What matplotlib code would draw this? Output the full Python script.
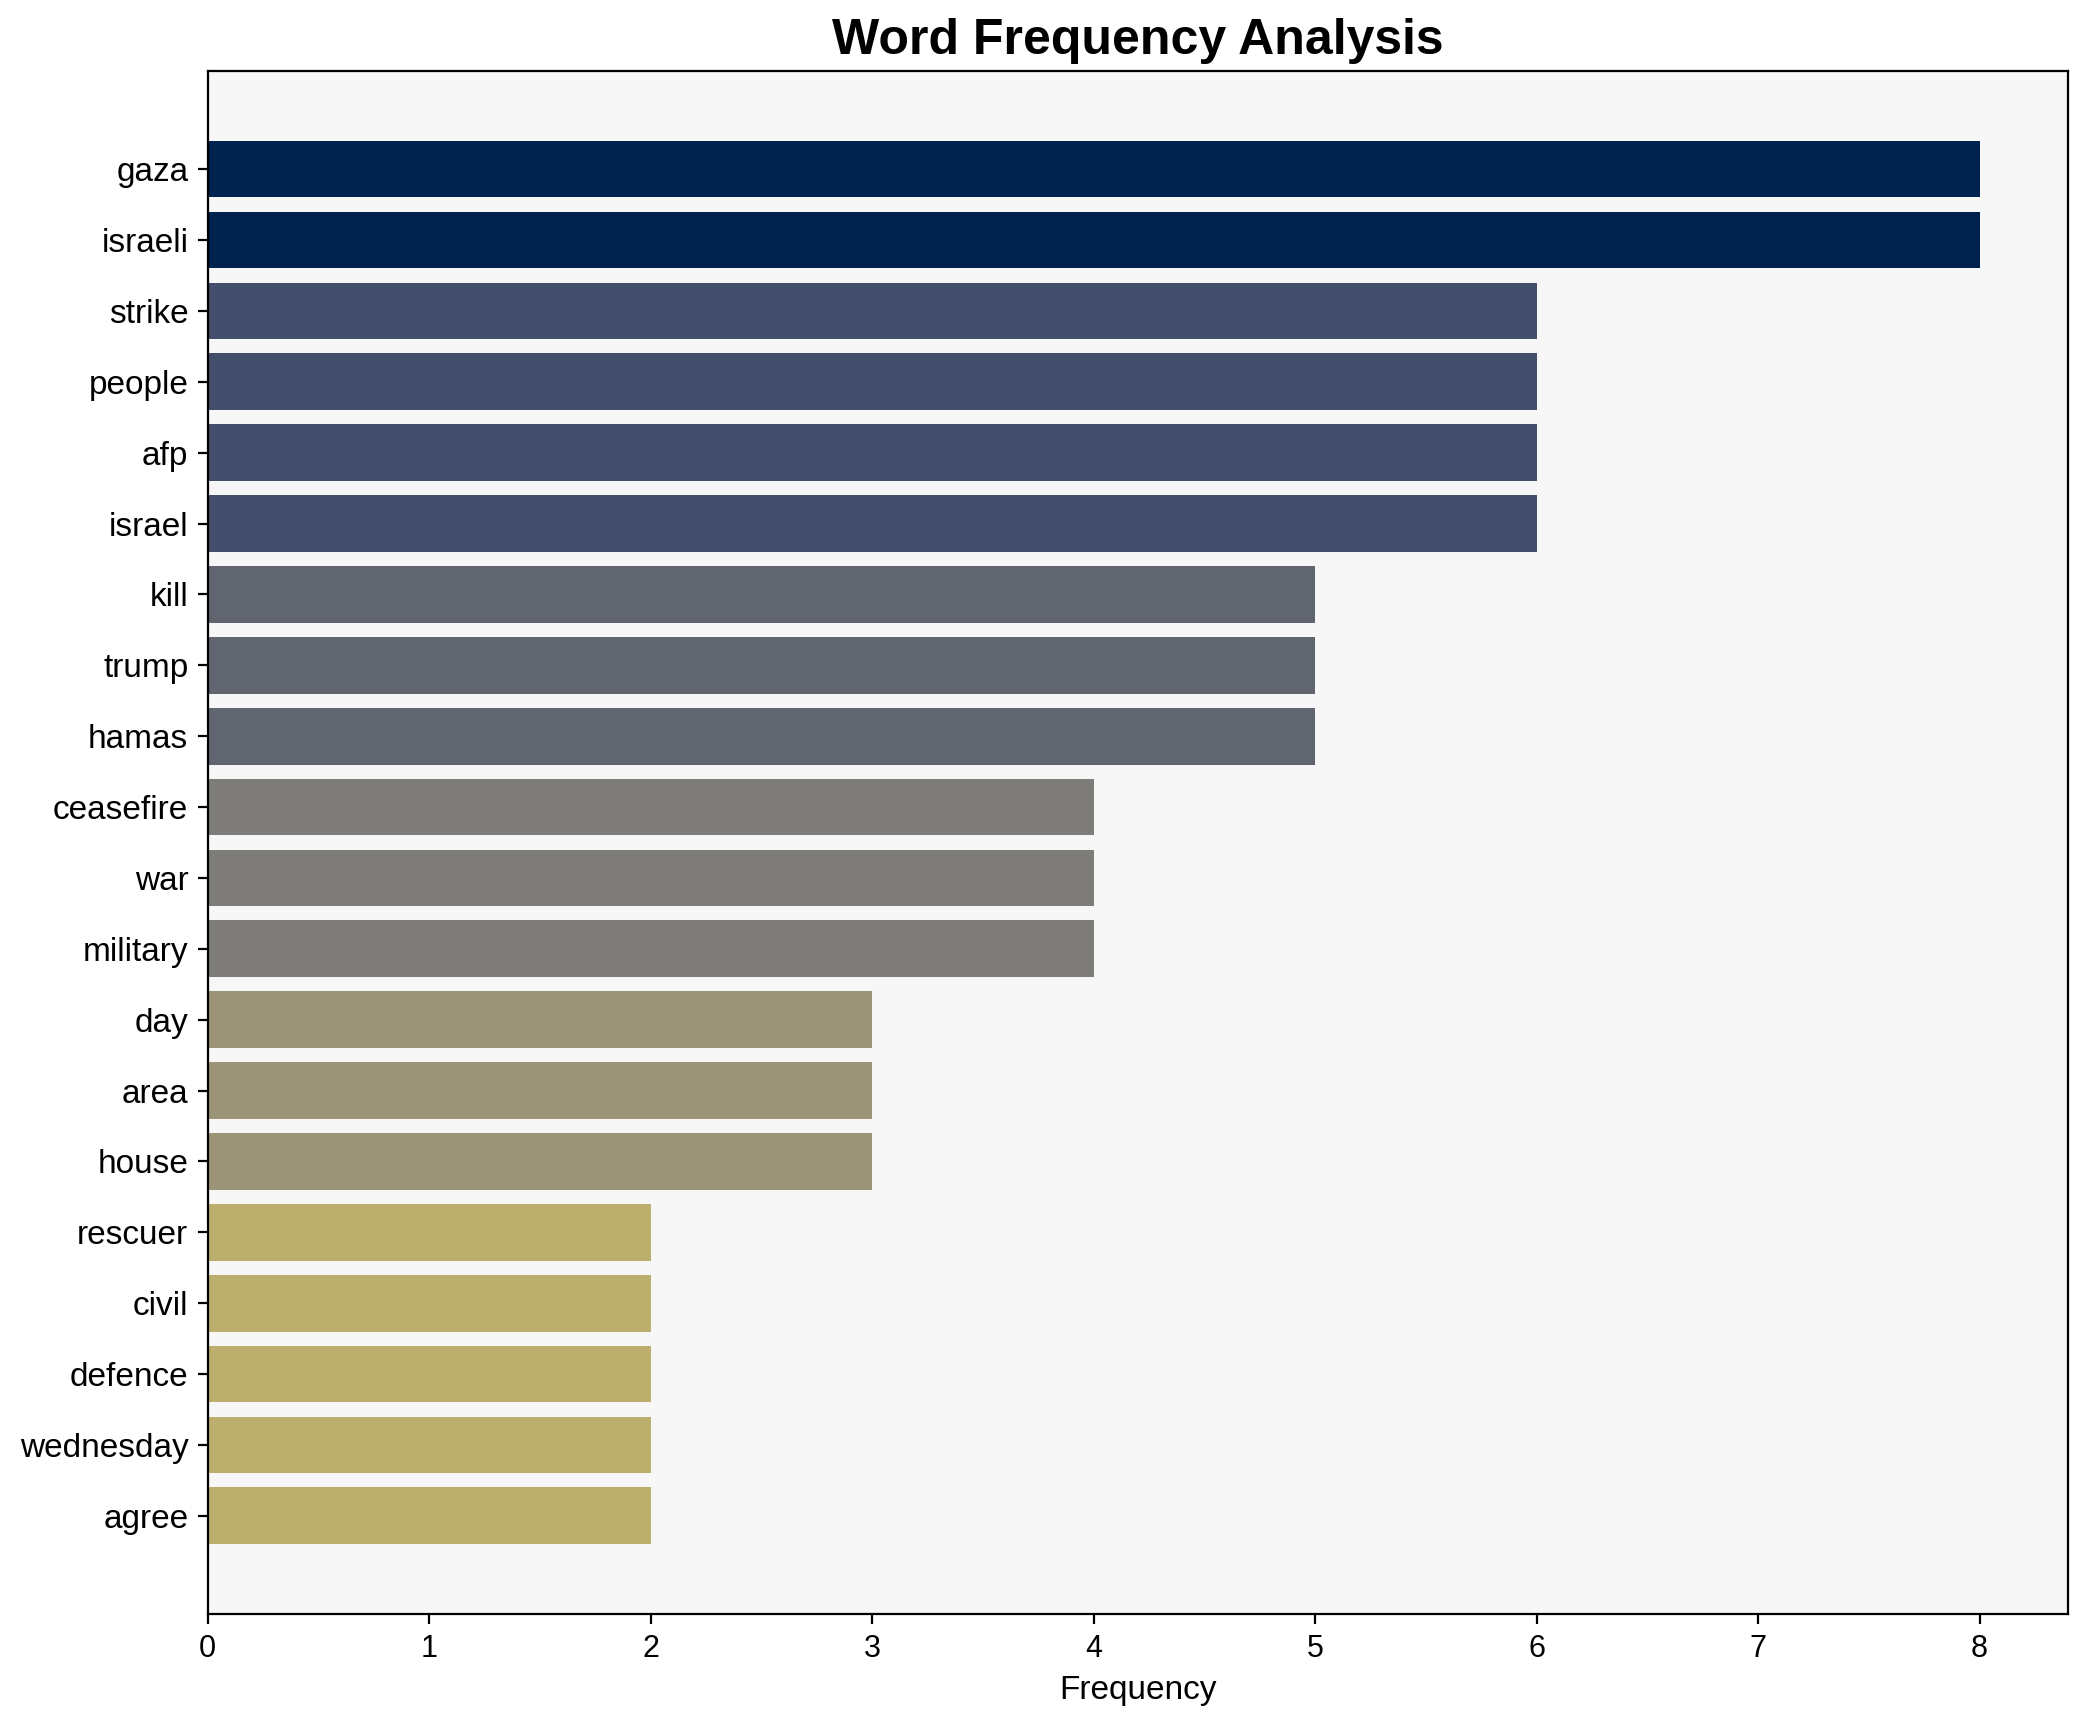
import numpy as np
import matplotlib
matplotlib.use('Agg')
from matplotlib import pyplot as plt

words = ['gaza', 'israeli', 'strike', 'people', 'afp', 'israel', 'kill', 'trump',
         'hamas', 'ceasefire', 'war', 'military', 'day', 'area', 'house',
         'rescuer', 'civil', 'defence', 'wednesday', 'agree']
counts = [8, 8, 6, 6, 6, 6, 5, 5, 5, 4, 4, 4, 3, 3, 3, 2, 2, 2, 2, 2]

plt.rcParams['font.family'] = ['Liberation Sans', 'DejaVu Sans']

fig, ax = plt.subplots(figsize=(10.44, 8.61), dpi=200)
ax.set_facecolor('#f7f7f7')

vals = np.array(counts)
colors = plt.cm.cividis(1 - vals / vals.max())
y = np.arange(len(words))
ax.barh(y, vals, color=colors, height=0.8)
ax.set_yticks(y)
ax.set_yticklabels(words, fontsize=12)
ax.invert_yaxis()
ax.tick_params(axis='x', labelsize=11)
ax.set_xlabel('Frequency', fontsize=12)
ax.set_title('Word Frequency Analysis', fontsize=18, fontweight='bold')

fig.subplots_adjust(left=0.099, right=0.9955, top=0.959, bottom=0.0625)
ax.set_position([0.0995, 0.0625, 0.8955 - 0.0045, 0.959 - 0.0625])
fig.savefig('out.png', dpi=200)
